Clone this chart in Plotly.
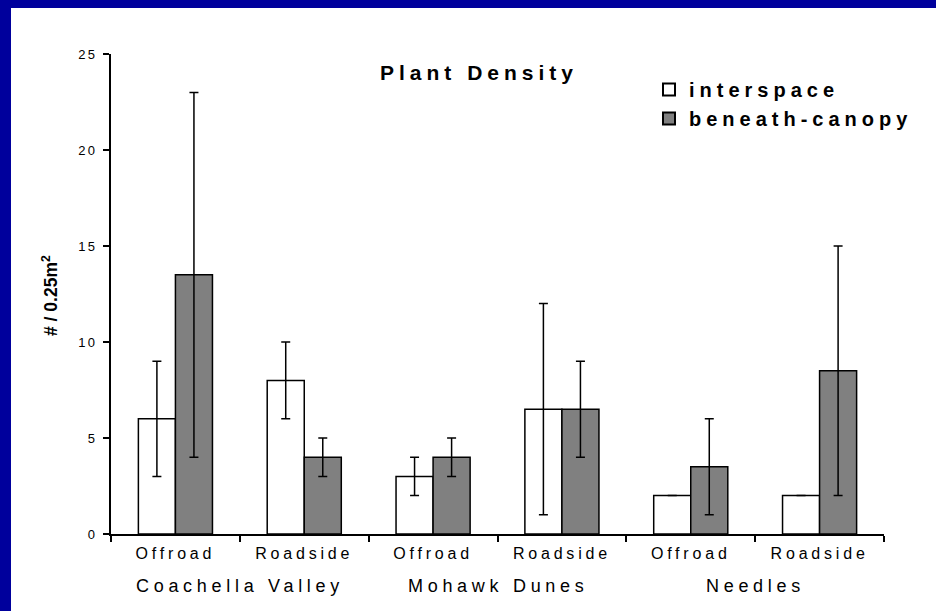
import plotly.graph_objects as go

# ---- data ----
sites = ["Coachella Valley", "Mohawk Dunes", "Needles"]
treatments = ["Offroad", "Roadside"]
categories = [f"{s} {t}" for s in sites for t in treatments]
tick_labels = treatments * len(sites)
y_ticks = [0, 5, 10, 15, 20, 25]

interspace_mean = [6, 8, 3, 6.5, 2, 2]
interspace_low = [3, 6, 2, 1, 2, 2]
interspace_high = [9, 10, 4, 12, 2, 2]

canopy_mean = [13.5, 4, 4, 6.5, 3.5, 8.5]
canopy_low = [4, 3, 3, 4, 1, 2]
canopy_high = [23, 5, 5, 9, 6, 15]

# ---- page geometry (pixels) ----
W, H = 936, 611
ML, MR, MT, MB = 111, 52, 54, 77
PW, PH = W - ML - MR, H - MT - MB
FONT = "Liberation Sans, Arial, sans-serif"
BLUE = "#00009c"


def px_x(px):
    return (px - ML) / PW


def px_y(py):
    return (H - MB - py) / PH


def spaced(text, sp):
    return f'<span style="letter-spacing:{sp}px">{text}</span>'


def err(mean, low, high):
    plus = [h - m for m, h in zip(mean, high)]
    minus = [m - l for m, l in zip(mean, low)]
    return dict(type="data", symmetric=False, array=plus, arrayminus=minus,
                color="black", thickness=1.5, width=4.5)


fig = go.Figure()
fig.add_trace(go.Bar(
    x=categories, y=interspace_mean, name=spaced("<b>interspace</b>", 5.0),
    marker=dict(color="white", line=dict(color="black", width=1.5)),
    error_y=err(interspace_mean, interspace_low, interspace_high),
))
fig.add_trace(go.Bar(
    x=categories, y=canopy_mean, name=spaced("<b>beneath-canopy</b>", 5.0),
    marker=dict(color="#808080", line=dict(color="black", width=1.5)),
    error_y=err(canopy_mean, canopy_low, canopy_high),
))

annotations = [
    dict(text=spaced("<b>Plant Density</b>", 5.0), x=px_x(479), y=px_y(73),
         xref="paper", yref="paper", showarrow=False, xanchor="center", yanchor="middle",
         font=dict(family=FONT, size=21, color="black")),
    dict(text="<b># / 0.25m<sup>2</sup></b>", x=px_x(50), y=px_y(296),
         xref="paper", yref="paper", showarrow=False, textangle=-90,
         xanchor="center", yanchor="middle",
         font=dict(family=FONT, size=17.5, color="black")),
]
for i, s in enumerate(sites):
    annotations.append(dict(
        text=spaced(s, 4.7), x=2 * i + 0.5, xref="x", y=px_y(586), yref="paper",
        showarrow=False, xanchor="center", yanchor="middle",
        font=dict(family=FONT, size=18, color="black")))

shapes = [
    dict(type="rect", xref="paper", yref="paper", layer="above", line=dict(width=0),
         fillcolor=BLUE, x0=px_x(0), x1=px_x(11), y0=px_y(H), y1=px_y(0)),
    dict(type="rect", xref="paper", yref="paper", layer="above", line=dict(width=0),
         fillcolor=BLUE, x0=px_x(0), x1=px_x(W), y0=px_y(8), y1=px_y(0)),
]

fig.update_layout(
    width=W, height=H, margin=dict(l=ML, r=MR, t=MT, b=MB, pad=0),
    paper_bgcolor="white", plot_bgcolor="white",
    barmode="group", bargap=0.425, bargroupgap=0,
    font=dict(family=FONT, color="black"),
    showlegend=True,
    legend=dict(x=px_x(649), y=px_y(70), xanchor="left", yanchor="top",
                bgcolor="rgba(0,0,0,0)", font=dict(family=FONT, size=20, color="black"),
                tracegroupgap=0, itemsizing="constant"),
    xaxis=dict(type="category", tickmode="array", tickvals=categories,
               ticktext=[spaced(t, 3.8) for t in tick_labels],
               tickson="boundaries", ticks="outside", ticklen=6, tickwidth=2, tickcolor="black",
               ticklabelstandoff=4,
               showline=True, linewidth=2, linecolor="black", showgrid=False,
               tickfont=dict(family=FONT, size=16, color="black"), range=[-0.5, 5.5]),
    yaxis=dict(range=[0, 25], tickmode="array", tickvals=y_ticks,
               ticktext=[spaced(str(v), 2.4) for v in y_ticks],
               ticks="outside", ticklen=6, tickwidth=2, tickcolor="black",
               ticklabelstandoff=3,
               showline=True, linewidth=2, linecolor="black", showgrid=False, zeroline=False,
               tickfont=dict(family=FONT, size=13, color="black")),
    annotations=annotations, shapes=shapes,
)

fig.write_html("out.html")
